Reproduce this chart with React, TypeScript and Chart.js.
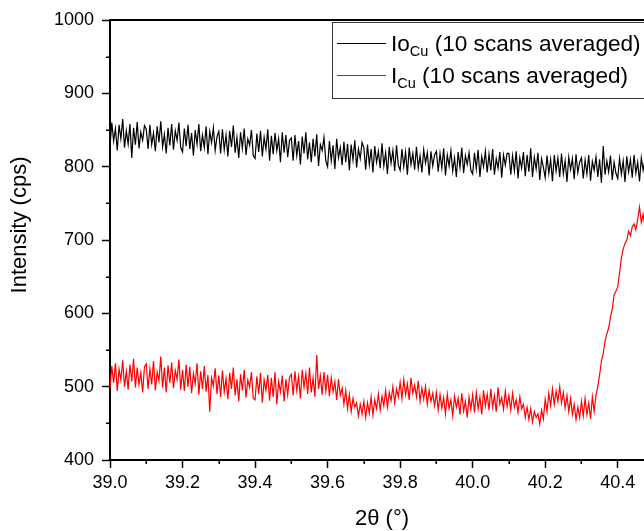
import React, { useEffect, useRef } from 'react';
import { Chart, registerables } from 'chart.js';

Chart.register(...registerables);

// 2θ sampling of both scans
const X_START = 39.0;
const X_STEP = 0.005;
const X_MIN = 39.0;
const X_MAX = 40.5;
const Y_MIN = 400;
const Y_MAX = 1000;
const X_MAJOR = 0.2;
const Y_MAJOR = 100;

const X_TITLE = '2θ (°)';
const Y_TITLE = 'Intensity (cps)';
const LEGEND_ITEMS = [
  { main: 'Io', sub: 'Cu', rest: ' (10 scans averaged)', color: '#000000' },
  { main: 'I', sub: 'Cu', rest: ' (10 scans averaged)', color: '#ff0000' },
];

// Io_Cu (10 scans averaged)
const IO_CU = [
  828, 860, 835, 852, 822, 857, 838, 865, 826, 849, 831, 858, 812, 853, 830, 861, 825, 847, 836, 856,
  851, 824, 857, 830, 846, 821, 855, 833, 862, 827, 844, 818, 853, 829, 858, 823, 849, 836, 860, 826,
  820, 852, 828, 857, 824, 846, 815, 850, 831, 858, 821, 843, 826, 855, 817, 848, 833, 853, 822, 841,
  848, 818, 851, 823, 843, 814, 849, 827, 856, 819, 840, 812, 847, 825, 852, 816, 838, 829, 850, 815,
  811, 845, 820, 849, 814, 840, 824, 851, 808, 842, 817, 846, 822, 838, 806, 847, 819, 843, 813, 836,
  839, 808, 843, 815, 835, 803, 841, 818, 847, 810, 833, 806, 838, 814, 844, 801, 830, 822, 840, 808,
  800, 835, 808, 829, 797, 838, 812, 826, 802, 834, 806, 831, 795, 830, 809, 836, 799, 824, 811, 833,
  826, 796, 830, 803, 824, 792, 828, 806, 821, 798, 832, 801, 819, 790, 827, 805, 822, 794, 829, 802,
  795, 824, 800, 820, 789, 826, 803, 818, 796, 827, 798, 815, 792, 823, 805, 819, 788, 821, 801, 816,
  821, 793, 818, 798, 825, 788, 816, 801, 822, 794, 812, 786, 820, 799, 826, 791, 815, 803, 819, 795,
  790, 819, 797, 823, 786, 814, 800, 821, 792, 817, 795, 824, 789, 811, 798, 820, 785, 816, 802, 818,
  818, 789, 815, 794, 821, 784, 812, 798, 820, 787, 816, 793, 825, 786, 813, 797, 819, 782, 811, 799,
  785, 815, 791, 810, 780, 816, 794, 812, 786, 818, 790, 808, 779, 813, 796, 811, 783, 817, 792, 806,
  812, 784, 809, 790, 816, 781, 807, 795, 813, 786, 810, 778, 828, 789, 808, 793, 815, 782, 806, 791,
  784, 811, 790, 808, 779, 814, 793, 810, 785, 816, 791, 806, 780, 812, 795, 809, 783, 815, 789, 807,
  798,
];

// I_Cu (10 scans averaged)
const I_CU = [
  498, 528, 505, 532, 494, 524, 509, 536, 500, 521, 496, 530, 507, 538, 499, 526, 503, 519, 492, 527,
  531, 497, 524, 503, 535, 495, 520, 508, 541, 499, 526, 492, 529, 505, 533, 498, 522, 510, 537, 496,
  523, 494, 530, 500, 527, 491, 518, 504, 532, 489, 521, 497, 528, 493, 516, 466, 512, 501, 525, 490,
  515, 486, 522, 493, 511, 483, 519, 497, 526, 488, 510, 480, 517, 495, 523, 485, 509, 499, 520, 484,
  482, 514, 490, 519, 478, 509, 495, 516, 481, 512, 486, 520, 476, 507, 493, 515, 480, 510, 489, 513,
  517, 488, 521, 495, 514, 484, 523, 499, 518, 490, 526, 492, 512, 486, 543, 497, 515, 489, 520, 494,
  516, 487, 512, 493, 507, 482, 510, 488, 498, 476, 495, 470, 489, 466, 484, 472, 478, 460, 476, 463,
  480, 458, 478, 464, 486, 461, 482, 470, 490, 468, 487, 474, 495, 472, 492, 481, 500, 478, 497, 486,
  506, 484, 510, 489, 504, 482, 512, 491, 502, 486, 508, 480, 498, 483, 500, 476, 495, 480, 491, 474,
  492, 468, 489, 471, 485, 463, 490, 470, 482, 460, 487, 472, 484, 462, 491, 467, 480, 458, 486, 469,
  489, 465, 492, 470, 486, 462, 495, 474, 490, 468, 497, 472, 488, 466, 499, 476, 485, 469, 494, 473,
  488, 468, 491, 472, 482, 465, 486, 470, 476, 458, 472, 455, 470, 452, 466, 458, 463, 449, 468, 456,
  483, 466, 491, 474, 497, 476, 494, 480, 500, 478, 492, 471, 488, 466, 484, 462, 476, 455, 472, 458,
  480, 460, 484, 462, 478, 456, 486, 466, 488, 500, 516, 535, 545, 562, 572, 580, 595, 606, 625, 630,
  636, 655, 675, 688, 695, 700, 712, 706, 718, 722, 714, 728, 745, 724, 735, 718, 730, 722, 733, 726,
  729,
];

const FONT = '"Liberation Sans", Arial, sans-serif';

const toPoints = (arr: number[]) => arr.map((y, i) => ({ x: X_START + i * X_STEP, y }));

const decorPlugin = {
  id: 'decor',
  afterDraw(chart: any) {
    const ctx: CanvasRenderingContext2D = chart.ctx;
    const { left, right, top, bottom } = chart.chartArea;
    const xs = chart.scales.x;
    const ys = chart.scales.y;
    ctx.save();
    ctx.strokeStyle = '#000';
    // frame top and right
    ctx.lineWidth = 2;
    ctx.beginPath();
    ctx.moveTo(left - 1, top);
    ctx.lineTo(right + 1, top);
    ctx.moveTo(right, top);
    ctx.lineTo(right, bottom);
    ctx.stroke();
    // minor ticks
    ctx.lineWidth = 1.5;
    ctx.beginPath();
    for (let v = Y_MIN + Y_MAJOR / 2; v < Y_MAX; v += Y_MAJOR) {
      const y = Math.round(ys.getPixelForValue(v)) + 0.25;
      ctx.moveTo(left - 4, y);
      ctx.lineTo(left, y);
    }
    for (let k = 0; X_MIN + X_MAJOR / 2 + k * X_MAJOR <= X_MAX + 1e-9; k++) {
      const x = Math.round(xs.getPixelForValue(X_MIN + X_MAJOR / 2 + k * X_MAJOR)) + 0.25;
      ctx.moveTo(x, bottom);
      ctx.lineTo(x, bottom + 4);
    }
    ctx.stroke();

    // axis titles
    ctx.fillStyle = '#000';
    ctx.font = `22px ${FONT}`;
    ctx.textAlign = 'center';
    ctx.textBaseline = 'middle';
    ctx.fillText(X_TITLE, (left + right) / 2, 519);
    ctx.save();
    ctx.translate(20, 225);
    ctx.rotate(-Math.PI / 2);
    ctx.fillText(Y_TITLE, 0, 0);
    ctx.restore();

    // legend
    const bx = 332;
    const by = 22;
    ctx.fillStyle = '#fff';
    ctx.fillRect(bx, by, 340, 77);
    ctx.strokeStyle = '#333';
    ctx.lineWidth = 1;
    ctx.strokeRect(bx + 0.5, by + 0.5, 340, 76);
    LEGEND_ITEMS.forEach((it, i) => {
      const cy = 43 + i * 32;
      ctx.strokeStyle = it.color;
      ctx.lineWidth = 1;
      ctx.beginPath();
      ctx.moveTo(337, cy + 0.5);
      ctx.lineTo(386, cy + 0.5);
      ctx.stroke();
      ctx.fillStyle = '#000';
      ctx.textAlign = 'left';
      ctx.textBaseline = 'alphabetic';
      let x = 391;
      const base = cy + 8;
      ctx.font = `22.6px ${FONT}`;
      ctx.fillText(it.main, x, base);
      x += ctx.measureText(it.main).width;
      ctx.font = `14.5px ${FONT}`;
      ctx.fillText(it.sub, x, base + 5);
      x += ctx.measureText(it.sub).width;
      ctx.font = `22.6px ${FONT}`;
      ctx.fillText(it.rest, x, base);
    });
    ctx.restore();
  },
};

export default function App() {
  const ref = useRef<HTMLCanvasElement>(null);
  useEffect(() => {
    const canvas = ref.current;
    if (!canvas) return;
    Chart.defaults.font.family = FONT;
    const chart = new Chart(canvas, {
      type: 'line',
      data: {
        datasets: [
          {
            label: 'IoCu',
            data: toPoints(IO_CU),
            borderColor: '#000000',
            borderWidth: 1.2,
            pointRadius: 0,
            tension: 0,
          },
          {
            label: 'ICu',
            data: toPoints(I_CU),
            borderColor: '#ff0000',
            borderWidth: 1.2,
            pointRadius: 0,
            tension: 0,
          },
        ],
      },
      options: {
        responsive: false,
        animation: false,
        devicePixelRatio: 1,
        layout: { padding: { top: 20, right: 6, left: 0, bottom: 0 } },
        plugins: { legend: { display: false }, tooltip: { enabled: false } },
        scales: {
          x: {
            type: 'linear',
            min: X_MIN,
            max: X_MAX,
            afterFit: (s: any) => {
              s.height = 71;
            },
            ticks: {
              stepSize: X_MAJOR,
              includeBounds: false,
              autoSkip: false,
              maxRotation: 0,
              padding: 4,
              color: '#000',
              font: { size: 18 },
              callback: (v: any) => Number(v).toFixed(1),
            },
            grid: {
              display: true,
              drawOnChartArea: false,
              drawTicks: true,
              tickLength: 8,
              tickWidth: 1.5,
              tickColor: '#000',
            },
            border: { display: true, color: '#000', width: 2 },
          },
          y: {
            type: 'linear',
            min: Y_MIN,
            max: Y_MAX,
            afterFit: (s: any) => {
              s.width = 110;
            },
            ticks: {
              stepSize: Y_MAJOR,
              padding: 8,
              color: '#000',
              font: { size: 18 },
              callback: (v: any) => String(Math.round(Number(v))),
            },
            grid: {
              display: true,
              drawOnChartArea: false,
              drawTicks: true,
              tickLength: 8,
              tickWidth: 1.5,
              tickColor: '#000',
            },
            border: { display: true, color: '#000', width: 2 },
          },
        },
      },
      plugins: [decorPlugin],
    } as any);
    return () => chart.destroy();
  }, []);

  return (
    <div
      style={{
        position: 'fixed',
        left: 0,
        top: 0,
        width: 644,
        height: 531,
        overflow: 'hidden',
        background: '#fff',
      }}
    >
      <canvas ref={ref} width={660} height={531} style={{ display: 'block', width: 660, height: 531 }} />
    </div>
  );
}
